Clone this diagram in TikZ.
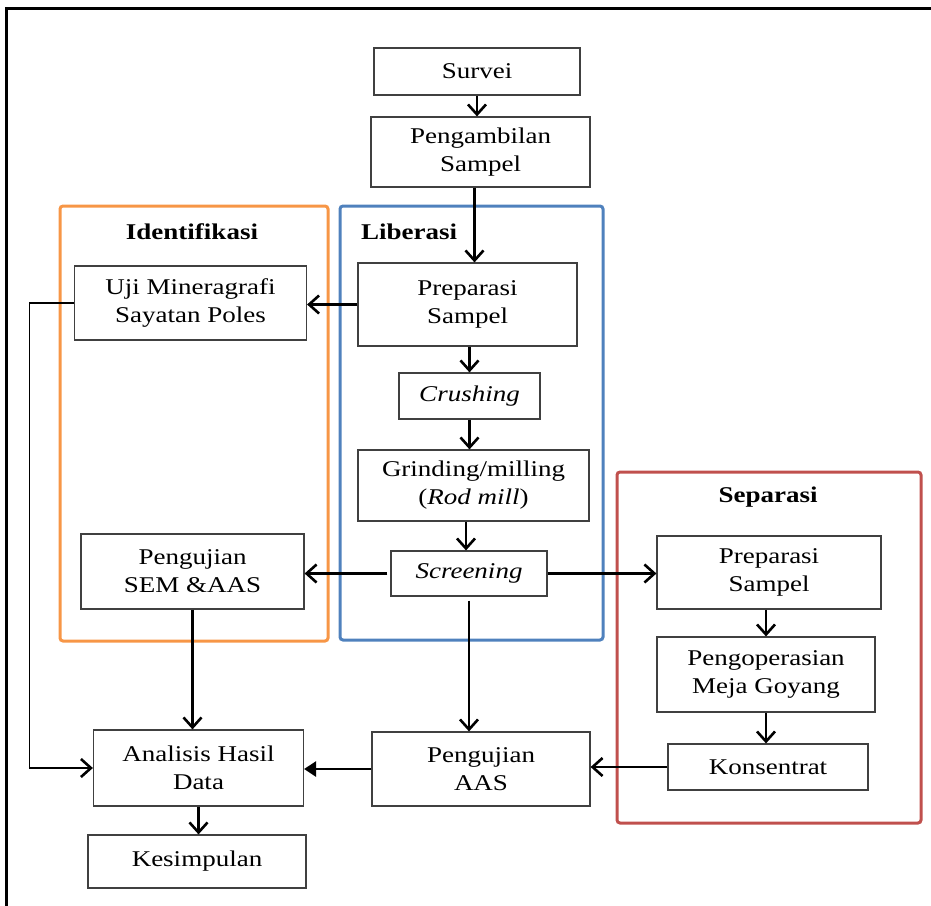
\documentclass[tikz,border=0pt]{standalone}
\usepackage{fontspec}
\setmainfont[FakeStretch=1.2]{Liberation Serif}
\usetikzlibrary{arrows.meta}
\definecolor{frameorange}{RGB}{247,150,70}
\definecolor{frameblue}{RGB}{79,129,189}
\definecolor{framered}{RGB}{192,80,77}
\begin{document}
\begin{tikzpicture}[x=1pt,y=-1pt,
    block/.style={draw=black!75, line width=1.2pt, rectangle, inner sep=0pt, align=center,
      font=\fontsize{22.5}{28}\selectfont},
    title/.style={font=\fontsize{22.5}{28}\selectfont\bfseries},
    group/.style={line width=3pt, rounded corners=3pt},
    arr/.style={line width=2.5pt, -{Straight Barb[length=10pt,width=18pt,line width=2.6pt]}},
    arrf/.style={line width=2.8pt, -{Triangle[length=12pt,width=15pt]}}]
    \useasboundingbox (0,0) rectangle (931,905);
    \clip (0,0) rectangle (931,905);
    \draw[line width=3pt] (6.5,8.5) rectangle (945,920);

    % groups
    \draw[group, frameorange] (60,206) rectangle (328,641);
    \draw[group, frameblue] (340,206) rectangle (603,640);
    \draw[group, framered] (617,472) rectangle (921,823);
    \node[title] (tident) at (192,232) {Identifikasi};
    \node[title] (tlib) at (409,232) {Liberasi};
    \node[title] (tsep) at (768,497) {Separasi};

    \node[block, minimum width=206pt, minimum height=47pt] (survei) at (477,71.5) {Survei};
    \node[block, minimum width=219pt, minimum height=70pt] (ambil) at (480.5,152) {Pengambilan\\Sampel};
    \node[block, minimum width=232pt, minimum height=74pt] (uji) at (190.5,303) {Uji Mineragrafi\\Sayatan Poles};
    \node[block, minimum width=219pt, minimum height=83pt] (prepL) at (467.5,304.5) {Preparasi\\Sampel};
    \node[block, minimum width=141pt, minimum height=46pt] (crush) at (469.5,396) {\textit{Crushing}};
    \node[block, minimum width=231pt, minimum height=71pt] (grind) at (473.5,485.5) {Grinding/milling\\(\textit{Rod mill})};
    \node[block, minimum width=156pt, minimum height=45pt] (screen) at (469,573.5) {\textit{Screening}};
    \node[block, minimum width=223pt, minimum height=75pt] (sem) at (192.5,571.5) {Pengujian\\SEM \&AAS};
    \node[block, minimum width=224pt, minimum height=73pt] (prepS) at (769,572.5) {Preparasi\\Sampel};
    \node[block, minimum width=218pt, minimum height=75pt] (meja) at (766,674.5) {Pengoperasian\\Meja Goyang};
    \node[block, minimum width=200pt, minimum height=46pt] (konsen) at (768,767) {Konsentrat};
    \node[block, minimum width=218pt, minimum height=74pt] (aas) at (481,769) {Pengujian\\AAS};
    \node[block, minimum width=210pt, minimum height=76pt] (analisis) at (198.5,768) {Analisis Hasil\\Data};
    \node[block, minimum width=218pt, minimum height=53pt] (simpul) at (197,861.5) {Kesimpulan};
    \coordinate (bend) at (29.5,768);

    % connectors
    \draw[arr] (survei.south) -- (survei.south |- ambil.north);
    \draw[arr] ([xshift=-6pt]ambil.south) -- ([xshift=-6pt]ambil.south |- prepL.north);
    \draw[arr] (prepL.west) -- (prepL.west -| uji.east);
    \draw[arr] (crush.north |- prepL.south) -- (crush.north);
    \draw[arr] (crush.south) -- (crush.south |- grind.north);
    \draw[arr] ([xshift=-3pt]screen.north |- grind.south) -- ([xshift=-3pt]screen.north);
    \draw[arr] ([xshift=-3pt]screen.west) -- (screen.west -| sem.east);
    \draw[arr, line width=2.9pt] (screen.east) -- (screen.east -| prepS.west);
    \draw[arr] ([yshift=-4pt]screen.south) -- (screen.south |- aas.north);
    \draw[line width=1.6pt] (uji.west) -| (bend);
    \draw[arr, line width=2.9pt] ([xshift=-0.6pt]bend) -- (analisis.west);
    \draw[arr] (sem.south) -- (sem.south |- analisis.north);
    \draw[arrf] (aas.west) -- (aas.west -| analisis.east);
    \draw[arr] (konsen.west) -- (konsen.west -| aas.east);
    \draw[arr] ([xshift=-3pt]prepS.south) -- ([xshift=-3pt]prepS.south |- meja.north);
    \draw[arr] (meja.south) -- (meja.south |- konsen.north);
    \draw[arr] (analisis.south) -- (analisis.south |- simpul.north);
\end{tikzpicture}
\end{document}
